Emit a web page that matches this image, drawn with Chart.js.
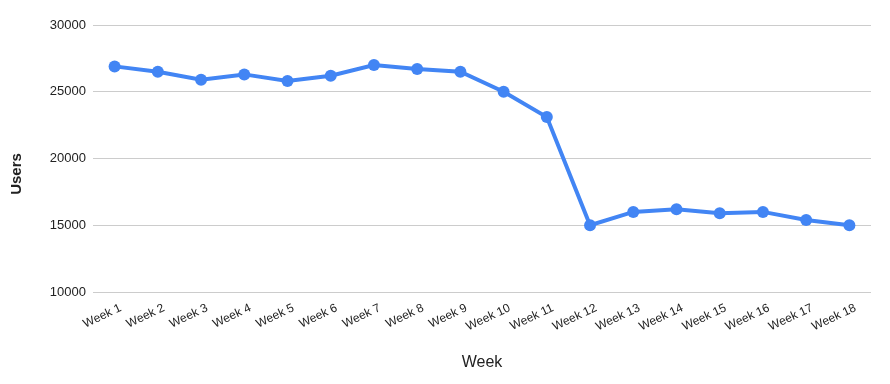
<!DOCTYPE html>
<html>
<head>
<meta charset="utf-8">
<script src="https://cdn.jsdelivr.net/npm/chart.js@4/dist/chart.umd.min.js"></script>
<style>
  html, body { margin: 0; padding: 0; background: #ffffff; }
  #wrap { width: 890px; height: 384px; }
</style>
</head>
<body>
<div id="wrap"><canvas id="c" width="890" height="384"></canvas></div>
<script>
const categories = ["Week 1","Week 2","Week 3","Week 4","Week 5","Week 6","Week 7","Week 8","Week 9","Week 10","Week 11","Week 12","Week 13","Week 14","Week 15","Week 16","Week 17","Week 18"];
const users = [26900, 26500, 25900, 26300, 25800, 26200, 27000, 26700, 26500, 25000, 23100, 15000, 16000, 16200, 15900, 16000, 15400, 15000];
const yTicks = [10000, 15000, 20000, 25000, 30000];
const xTitle = "Week";
const yTitle = "Users";

const FONT = "'Liberation Sans', Arial, Helvetica, sans-serif";

const yTitlePlugin = {
  id: 'yTitlePlugin',
  afterDraw(chart) {
    const ctx = chart.ctx;
    ctx.save();
    ctx.translate(16.5, 174);
    ctx.rotate(-Math.PI / 2);
    ctx.font = "bold 15px " + FONT;
    ctx.fillStyle = "#222222";
    ctx.textAlign = "center";
    ctx.textBaseline = "middle";
    ctx.fillText(yTitle, 0, 0);
    ctx.restore();
  }
};

new Chart(document.getElementById('c'), {
  type: 'line',
  data: {
    labels: categories,
    datasets: [{
      label: yTitle,
      data: users,
      borderColor: '#4285F4',
      backgroundColor: '#4285F4',
      pointBackgroundColor: '#4285F4',
      pointBorderColor: '#4285F4',
      borderWidth: 4,
      pointRadius: 6,
      pointBorderWidth: 0,
      tension: 0,
      clip: false
    }]
  },
  options: {
    responsive: false,
    animation: false,
    devicePixelRatio: 1,
    layout: { padding: { top: 25, right: 19, left: 0, bottom: 0 } },
    plugins: { legend: { display: false }, tooltip: { enabled: false } },
    scales: {
      x: {
        type: 'category',
        offset: true,
        grid: { display: false, drawTicks: false },
        border: { display: false },
        ticks: {
          autoSkip: false,
          maxRotation: 25,
          minRotation: 25,
          padding: 9,
          labelOffset: 6,
          color: '#222222',
          font: { family: FONT, size: 12 }
        },
        title: {
          display: true,
          text: xTitle,
          color: '#222222',
          font: { family: FONT, size: 16 },
          padding: { top: 0, bottom: 12 }
        },
        afterFit(scale) { scale.height = 92; }
      },
      y: {
        min: 10000,
        max: 30000,
        afterBuildTicks(scale) { scale.ticks = yTicks.map(v => ({ value: v })); },
        grid: { color: '#cccccc', drawTicks: false, lineWidth: 1 },
        border: { display: false },
        ticks: {
          padding: 7,
          color: '#222222',
          font: { family: FONT, size: 13 },
          callback: (v) => String(v)
        },
        title: { display: false, text: yTitle },
        afterFit(scale) { scale.width = 93; }
      }
    }
  },
  plugins: [yTitlePlugin]
});
</script>
</body>
</html>
